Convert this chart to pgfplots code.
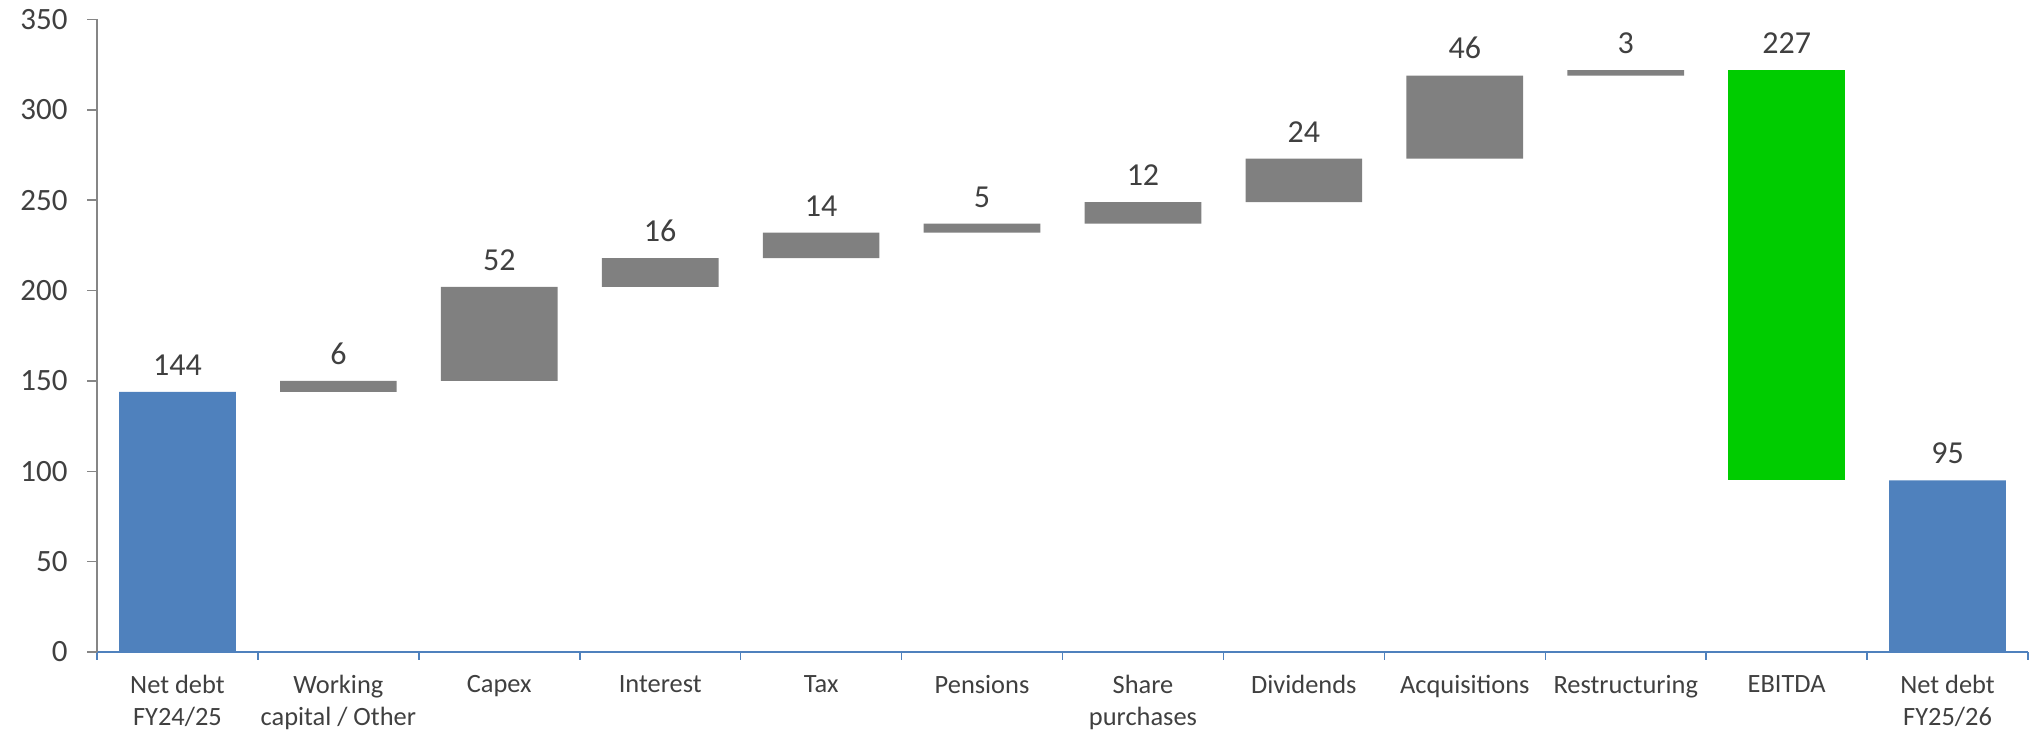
\documentclass[border=0pt]{standalone}
\usepackage{fontspec}
\setmainfont{Carlito}
\usepackage{pgfplots}
\usetikzlibrary{calc}
\pgfplotsset{compat=1.18}
\definecolor{barblue}{HTML}{4F81BD}
\definecolor{bargray}{HTML}{808080}
\definecolor{bargreen}{HTML}{00CC00}
\definecolor{txt}{HTML}{404040}
\definecolor{axgray}{HTML}{868686}
\definecolor{axblue}{HTML}{4F81BD}
\pgfplotsset{common/.style={scale only axis, width=965.5pt, height=316.25pt,
  xmin=-0.5, xmax=11.5, ymin=0, ymax=350, clip=false}}
\begin{document}
\begin{tikzpicture}
\begin{axis}[
  common,
  axis x line*=bottom, axis y line*=left,
  x axis line style={axblue, line width=0.75pt},
  y axis line style={axgray, line width=0.75pt},
  ybar stacked, bar width=0.725,
  tick align=outside, major tick length=5pt, minor tick length=4pt,
  ytick={0,50,...,350},
  ytick style={axgray, line width=0.75pt},
  xtick={0,...,11},
  every major x tick/.append style={draw=none},
  minor xtick={-0.5,0.5,...,11.5},
  every minor x tick/.append style={axblue, line width=0.75pt},
  xticklabels={{Net debt\\FY24/25},{Working\\capital / Other},Capex,Interest,Tax,Pensions,{Share\\purchases},Dividends,Acquisitions,Restructuring,EBITDA,{Net debt\\FY25/26}},
  xticklabel style={align=center, text=txt, inner sep=0pt, font=\fontsize{13.2}{15.8}\selectfont, yshift=-6.5pt},
  yticklabel style={text=txt, inner sep=0pt, font=\fontsize{15.5}{18}\selectfont, xshift=-9.5pt},
  /pgf/number format/assume math mode=true,
]
\addplot[draw=none, fill=none] coordinates {(0,0)(1,144)(2,150)(3,202)(4,218)(5,232)(6,237)(7,249)(8,273)(9,319)(10,95)(11,0)};
\addplot[draw=none, fill=barblue] coordinates {(0,144)(1,0)(2,0)(3,0)(4,0)(5,0)(6,0)(7,0)(8,0)(9,0)(10,0)(11,95)};
\addplot[draw=none, fill=bargray] coordinates {(0,0)(1,6)(2,52)(3,16)(4,14)(5,5)(6,12)(7,24)(8,46)(9,3)(10,0)(11,0)};
\addplot[draw=none, fill=bargreen] coordinates {(0,0)(1,0)(2,0)(3,0)(4,0)(5,0)(6,0)(7,0)(8,0)(9,0)(10,227)(11,0)};
\coordinate (BL) at (rel axis cs:0,0);
\coordinate (TR) at (rel axis cs:1,1);
\end{axis}
\begin{axis}[common, hide axis]
\addplot[only marks, mark=none, nodes near coords, point meta=explicit symbolic,
  nodes near coords style={anchor=south, inner sep=0pt, yshift=8pt, text=txt, font=\fontsize{16}{19}\selectfont}]
  table[x=x, y=y, meta=lab] {
x y lab
0 144 144
1 150 6
2 202 52
3 218 16
4 232 14
5 237 5
6 249 12
7 273 24
8 319 46
9 322 3
10 322 227
11 95 95
};
\end{axis}
\pgfresetboundingbox
\path[use as bounding box] ($(BL)+(-48.5pt,-39.5pt)$) rectangle ($(TR)+(0.5pt,9.75pt)$);
\end{tikzpicture}
\end{document}
